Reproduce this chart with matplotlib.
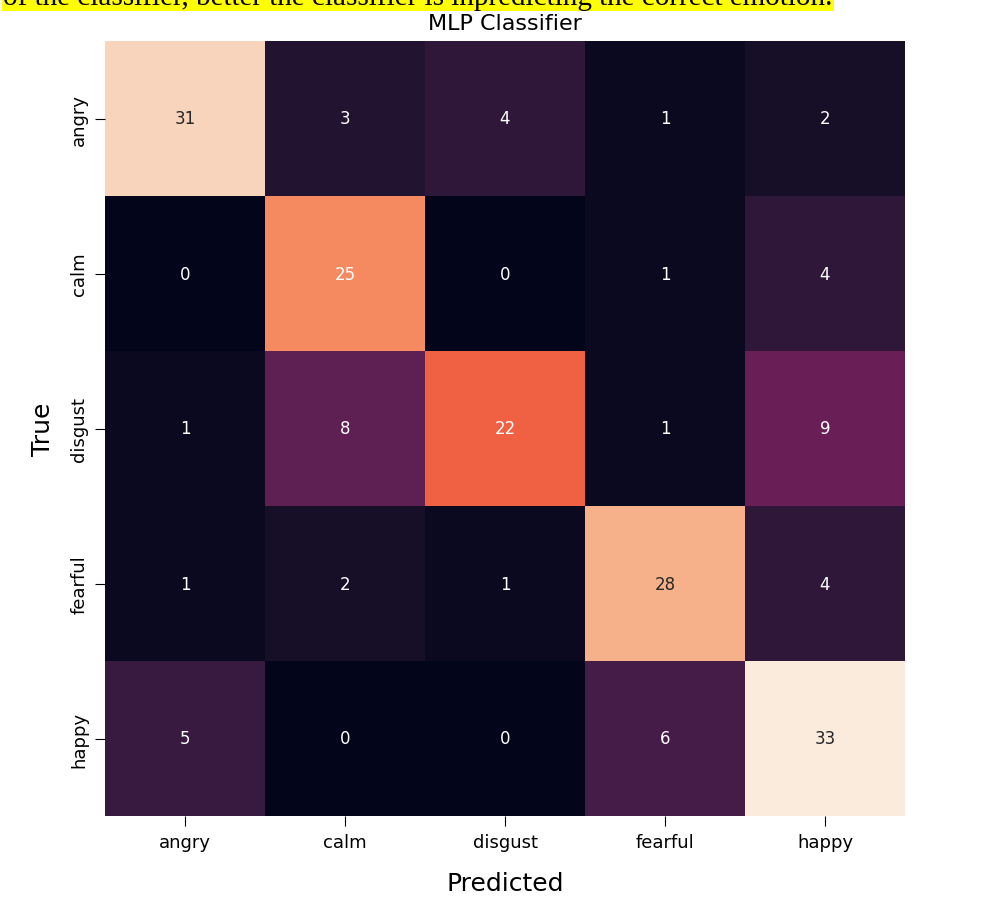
import matplotlib
matplotlib.use("Agg")
import matplotlib.pyplot as plt
import seaborn as sns
import numpy as np

labels = ["angry", "calm", "disgust", "fearful", "happy"]
cm = np.array([
    [31, 3, 4, 1, 2],
    [0, 25, 0, 1, 4],
    [1, 8, 22, 1, 9],
    [1, 2, 1, 28, 4],
    [5, 0, 0, 6, 33],
])
title = "MLP Classifier"
caption = "of the classifier, better the classifier is inpredicting the correct emotion."

fig = plt.figure(figsize=(9.81, 9.03), dpi=100)
ax = fig.add_axes([105/981, 1-817/903, 800/981, 775/903])
sns.heatmap(cm, annot=True, fmt="d", cmap="rocket", cbar=False,
            xticklabels=labels, yticklabels=labels, ax=ax,
            annot_kws={"fontsize": 12})
ax.set_title(title, fontsize=16, pad=9)
ax.set_xlabel("Predicted", fontsize=18, labelpad=15)
ax.set_ylabel("True", fontsize=18, labelpad=11)
ax.tick_params(axis="both", labelsize=13, length=7, pad=5)
plt.setp(ax.get_yticklabels(), rotation=90, va="center")

fig.text(3/981, 1-5/903, caption, fontsize=21, family="Liberation Serif",
         va="baseline", ha="left",
         bbox=dict(facecolor="#ffff00", edgecolor="none", pad=1))

fig.savefig("out.png", dpi=100)
